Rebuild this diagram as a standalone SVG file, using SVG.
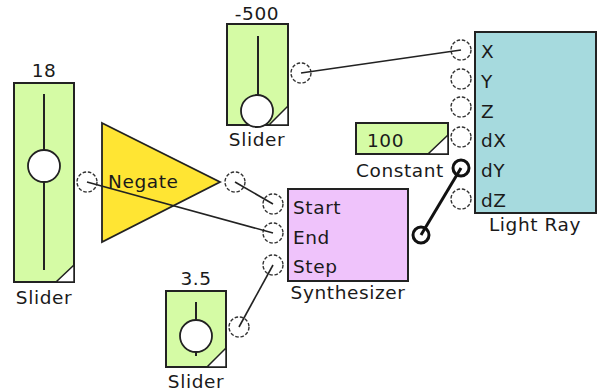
<svg xmlns="http://www.w3.org/2000/svg" width="600" height="392" viewBox="0 0 600 392">
<style>
text{font-family:"DejaVu Sans",Verdana,sans-serif;font-size:18.5px;letter-spacing:0.6px;fill:#1a1a1a}
.c{text-anchor:middle}
.box{stroke:#222;stroke-width:2}
.sl{fill:#d5fba5}
.knob{fill:#fff;stroke:#222;stroke-width:1.8}
.port{fill:#fff;stroke:#333;stroke-width:1.4;stroke-dasharray:3.5 1.8}
.bport{fill:#fff;stroke:#111;stroke-width:3}
.corner{fill:#fff;stroke:#222;stroke-width:1.5}
.w{fill:none;stroke:#222;stroke-width:1.6}
</style>
<rect width="600" height="392" fill="#fff"/>
<g id="slider18">
<text class="c" x="44" y="77">18</text>
<rect class="box sl" x="14" y="83" width="60" height="199"/>
<line class="w" x1="44" y1="94" x2="44" y2="270" style="stroke-width:2"/>
<path class="corner" d="M74,265 L74,282 L56,282 Z"/>
<circle class="knob" cx="44" cy="166" r="16"/>
<circle class="port" cx="87" cy="182" r="10"/>
<text class="c" x="44" y="304">Slider</text>
</g>
<g id="slider500">
<text class="c" x="257" y="20">-500</text>
<rect class="box sl" x="227" y="24" width="61" height="101"/>
<line class="w" x1="258" y1="36" x2="258" y2="97" style="stroke-width:2"/>
<path class="corner" d="M288,106 L288,125 L269,125 Z"/>
<circle class="knob" cx="257" cy="111" r="16"/>
<circle class="port" cx="301" cy="73" r="10"/>
<text class="c" x="257" y="146">Slider</text>
</g>
<g id="negate">
<path d="M102,123 L220,182 L102,242 Z" fill="#ffe533" stroke="#222" stroke-width="1.8"/>
<text x="108" y="188">Negate</text>
<circle class="port" cx="235" cy="182" r="10"/>
</g>
<g id="slider35">
<text class="c" x="196" y="285">3.5</text>
<rect class="box sl" x="166" y="291" width="60" height="76"/>
<line class="w" x1="196" y1="302" x2="196" y2="356" style="stroke-width:2"/>
<path class="corner" d="M226,348 L226,367 L207,367 Z"/>
<circle class="knob" cx="196" cy="336" r="16"/>
<circle class="port" cx="239" cy="327" r="10"/>
<text class="c" x="196" y="388">Slider</text>
</g>
<g id="synthesizer">
<rect class="box" x="288" y="189" width="120" height="92" fill="#efc3fb"/>
<text x="293" y="214">Start</text>
<text x="293" y="244">End</text>
<text x="293" y="273">Step</text>
<circle class="port" cx="273" cy="204" r="10"/>
<circle class="port" cx="273" cy="233" r="10"/>
<circle class="port" cx="273" cy="265" r="10"/>
<circle class="bport" cx="421" cy="235" r="8"/>
<text class="c" x="348" y="299">Synthesizer</text>
</g>
<g id="constant">
<rect class="box sl" x="356" y="123" width="92" height="31"/>
<path class="corner" d="M448,135 L448,154 L428,154 Z"/>
<text x="367" y="147">100</text>
<text x="356" y="177">Constant</text>
</g>
<g id="lightray">
<rect class="box" x="475" y="32" width="121" height="181" fill="#a6dade"/>
<circle class="port" cx="461" cy="50" r="10"/>
<circle class="port" cx="461" cy="79" r="10"/>
<circle class="port" cx="461" cy="107" r="10"/>
<circle class="port" cx="461" cy="137" r="10"/>
<circle class="bport" cx="461" cy="168" r="8"/>
<circle class="port" cx="461" cy="199" r="10"/>
<text x="481" y="58">X</text>
<text x="481" y="88">Y</text>
<text x="481" y="118">Z</text>
<text x="481" y="147">dX</text>
<text x="481" y="177">dY</text>
<text x="481" y="207">dZ</text>
<text class="c" x="535" y="231">Light Ray</text>
</g>
<g id="connectors">
<line class="w" x1="301" y1="73" x2="461" y2="50"/>
<line class="w" x1="87" y1="182" x2="273" y2="233"/>
<line class="w" x1="235" y1="182" x2="273" y2="204"/>
<line class="w" x1="239" y1="327" x2="273" y2="265"/>
<line class="w" x1="421" y1="235" x2="461" y2="168" style="stroke-width:3;stroke:#111"/>
</g>
</svg>
